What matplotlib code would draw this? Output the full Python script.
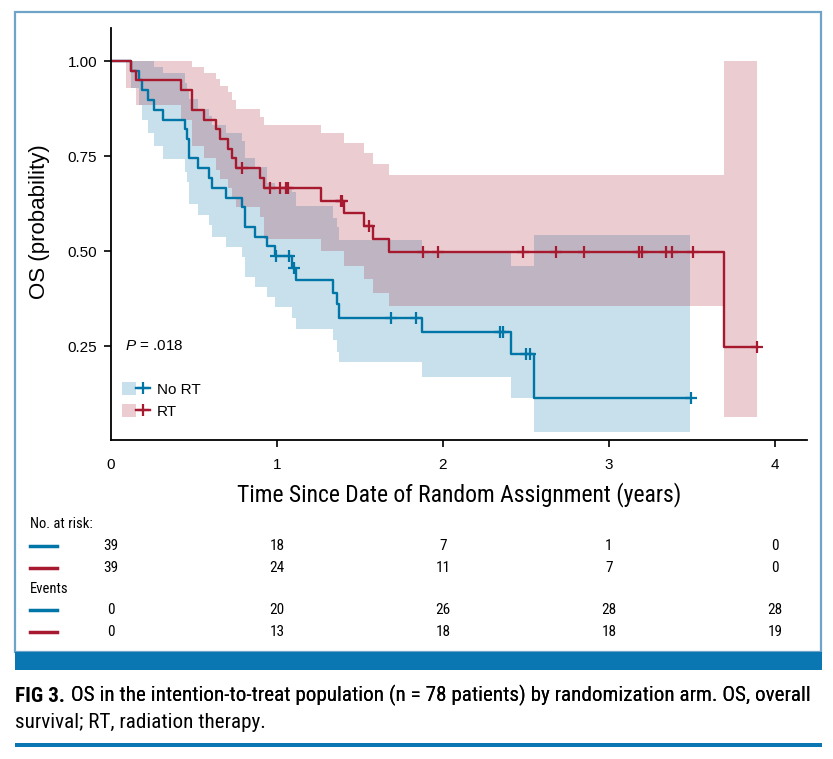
import os

import matplotlib
matplotlib.use("Agg")
import matplotlib.pyplot as plt
import numpy as np
from matplotlib import font_manager
from matplotlib.font_manager import FontProperties
from matplotlib.legend_handler import HandlerTuple
from matplotlib.lines import Line2D
from matplotlib.patches import Patch, Rectangle
from matplotlib.transforms import blended_transform_factory

# No RT arm: KM steps (time in years, survival after the step)
no_rt_time = [0, 0.119, 0.170, 0.185, 0.221, 0.259, 0.315, 0.446, 0.456, 0.468, 0.522, 0.590,
              0.606, 0.691, 0.791, 0.809, 0.867, 0.938, 0.990, 1.092, 1.114, 1.335, 1.360,
              1.372, 1.872, 2.408, 2.550, 3.492]
no_rt_surv = [1.0, 0.974, 0.949, 0.923, 0.897, 0.872, 0.846, 0.821, 0.795, 0.744, 0.718, 0.692,
              0.667, 0.641, 0.615, 0.564, 0.538, 0.513, 0.487, 0.455, 0.425, 0.391, 0.360,
              0.325, 0.286, 0.230, 0.114, 0.114]
no_rt_censor = [0.997, 1.072, 1.100, 1.687, 1.835, 2.345, 2.360, 2.500, 2.524, 3.492]

no_rt_ci_time = [0.119, 0.170, 0.185, 0.221, 0.259, 0.315, 0.446, 0.456, 0.468, 0.522, 0.590,
                 0.606, 0.691, 0.791, 0.809, 0.867, 0.938, 0.990, 1.092, 1.114, 1.335, 1.360,
                 1.372, 1.872, 2.408, 2.550, 3.488]
no_rt_ci_lo = [0.930, 0.885, 0.845, 0.810, 0.776, 0.742, 0.709, 0.682, 0.625, 0.595, 0.568,
               0.538, 0.511, 0.485, 0.432, 0.406, 0.380, 0.353, 0.323, 0.294, 0.266, 0.235,
               0.207, 0.169, 0.114, 0.025, 0.025]
no_rt_ci_hi = [1.000, 1.000, 1.000, 1.000, 0.985, 0.969, 0.943, 0.925, 0.900, 0.875, 0.855,
               0.832, 0.810, 0.790, 0.744, 0.722, 0.680, 0.660, 0.655, 0.618, 0.586, 0.564,
               0.529, 0.495, 0.461, 0.542, 0.542]

# RT arm
rt_time = [0, 0.119, 0.151, 0.422, 0.490, 0.560, 0.633, 0.657, 0.703, 0.731, 0.751, 0.898,
           0.922, 1.266, 1.402, 1.524, 1.580, 1.673, 3.693, 3.893]
rt_surv = [1.0, 0.974, 0.949, 0.923, 0.872, 0.846, 0.821, 0.795, 0.769, 0.744, 0.718, 0.692,
           0.667, 0.633, 0.600, 0.566, 0.531, 0.497, 0.248, 0.248]
rt_censor = [0.789, 0.960, 1.018, 1.054, 1.064, 1.386, 1.393, 1.554, 1.881, 1.972, 2.482,
             2.681, 2.849, 3.181, 3.199, 3.343, 3.378, 3.508, 3.893]

rt_ci_time = [0.090, 0.151, 0.422, 0.490, 0.560, 0.633, 0.657, 0.703, 0.731, 0.751, 0.898,
              0.922, 1.266, 1.402, 1.524, 1.580, 1.673, 3.693, 3.890]
rt_ci_lo = [0.930, 0.885, 0.845, 0.776, 0.744, 0.713, 0.690, 0.665, 0.643, 0.617, 0.590,
            0.533, 0.500, 0.461, 0.426, 0.390, 0.355, 0.064, 0.064]
rt_ci_hi = [1.000, 1.000, 1.000, 0.985, 0.969, 0.953, 0.935, 0.918, 0.897, 0.875, 0.854,
            0.832, 0.810, 0.785, 0.757, 0.729, 0.700, 1.000, 1.000]

# risk table
table_times = [0, 1, 2, 3, 4]
no_rt_at_risk = [39, 18, 7, 1, 0]
rt_at_risk = [39, 24, 11, 7, 0]
no_rt_events = [0, 20, 26, 28, 28]
rt_events = [0, 13, 18, 18, 19]

y_ticks = [0.25, 0.50, 0.75, 1.00]
x_ticks = [0, 1, 2, 3, 4]

BLUE = "#0076a8"
RED = "#a6192e"
BAND_ALPHA = 0.22
FRAME = "#6fa3c8"
BAR = "#0a76b2"

W, H = 833, 759

names = {f.name for f in font_manager.fontManager.ttflist}
SANS = "Liberation Sans" if "Liberation Sans" in names else "DejaVu Sans"
plt.rcParams["font.family"] = SANS
plt.rcParams["mathtext.fontset"] = "custom"
plt.rcParams["mathtext.it"] = SANS + ":italic"
plt.rcParams["mathtext.rm"] = SANS


def _is_condensed(f):
    label = (f.name + " " + os.path.basename(f.fname)).lower()
    if "narrow" in label or "condensed" in label:
        return True
    st = f.stretch
    if isinstance(st, str):
        return st in ("condensed", "semi-condensed", "extra-condensed", "ultra-condensed")
    return st < 500


def _weight(f):
    w = f.weight
    if isinstance(w, str):
        return 700 if "bold" in w else 400
    return w


def find_narrow(bold=False):
    prefs = ["liberation sans narrow", "roboto condensed", "dejavu sans", "noto sans",
             "open sans", "arial narrow"]
    found = []
    for f in font_manager.fontManager.ttflist:
        if not _is_condensed(f) or f.style != "normal":
            continue
        if (_weight(f) >= 600) != bold:
            continue
        nm = f.name.lower()
        rank = next((i for i, p in enumerate(prefs) if nm.startswith(p)), len(prefs))
        found.append((rank, abs(_weight(f) - (700 if bold else 400)), f.fname))
    if not found:
        return FontProperties(family=SANS, weight="bold" if bold else "normal")
    return FontProperties(fname=sorted(found)[0][2])


NARROW = find_narrow()
NARROW_BOLD = find_narrow(bold=True)


def fx(px):
    return px / W


def fy(py):
    return 1 - py / H


def step_at(times, surv, pts):
    idx = np.searchsorted(times, pts, side="right") - 1
    return np.asarray(surv)[idx]


def narrow(size, bold=False):
    fp = (NARROW_BOLD if bold else NARROW).copy()
    fp.set_size(size)
    return fp


fig = plt.figure(figsize=(W / 100, H / 100), dpi=100)
ax = fig.add_axes([fx(111), fy(440), fx(807) - fx(111), fy(28) - fy(440)])

ax.fill_between(no_rt_ci_time, no_rt_ci_lo, no_rt_ci_hi, step="post",
                color=BLUE, alpha=BAND_ALPHA, lw=0)
ax.fill_between(rt_ci_time, rt_ci_lo, rt_ci_hi, step="post",
                color=RED, alpha=BAND_ALPHA, lw=0)

LW, MS, MEW = 1.7, 9, 1.6
ax.step(no_rt_time, no_rt_surv, where="post", color=BLUE, lw=LW)
ax.plot(no_rt_censor, step_at(no_rt_time, no_rt_surv, no_rt_censor), ls="none",
        marker="+", ms=MS, mew=MEW, color=BLUE)
ax.step(rt_time, rt_surv, where="post", color=RED, lw=LW)
ax.plot(rt_censor, step_at(rt_time, rt_surv, rt_censor), ls="none",
        marker="+", ms=MS, mew=MEW, color=RED)

ax.set_xlim(0, 4.193)
ax.set_ylim(0.003, 1.087)
ax.set_xticks(x_ticks)
ax.set_yticks(y_ticks)
ax.set_yticklabels([f"{v:.2f}" for v in y_ticks])
for side in ["top", "right"]:
    ax.spines[side].set_visible(False)
for side in ["left", "bottom"]:
    ax.spines[side].set_linewidth(1.3)
ax.tick_params(axis="both", direction="out", length=5, width=1.2, labelsize=11)
ax.tick_params(axis="x", pad=8)
ax.tick_params(axis="y", pad=5)
ax.xaxis.get_major_ticks()[0].tick1line.set_visible(False)

ax.text(0.085, 0.25, r"$P$ = .018", fontsize=11, va="center", ha="left")

h_no = (Patch(facecolor=BLUE, alpha=BAND_ALPHA, lw=0),
        Line2D([], [], color=BLUE, lw=LW, marker="+", ms=MS, mew=MEW))
h_rt = (Patch(facecolor=RED, alpha=BAND_ALPHA, lw=0),
        Line2D([], [], color=RED, lw=LW, marker="+", ms=MS, mew=MEW))
ax.legend([h_no, h_rt], ["No RT", "RT"], handler_map={tuple: HandlerTuple(ndivide=None)},
          loc="upper left", bbox_to_anchor=(fx(122), fy(382)), bbox_transform=fig.transFigure,
          frameon=False, fontsize=11, handlelength=1.8, handleheight=0.95,
          handletextpad=0.5, labelspacing=0.45, borderpad=0, borderaxespad=0)

fig.text(fx(40), fy(222), "OS (probability)", rotation=90, ha="center", va="center",
         fontsize=16)
fig.text(fx(459), fy(495), "Time Since Date of Random Assignment (years)", ha="center",
         va="center", fontproperties=narrow(17))

# number at risk / events table
tr = blended_transform_factory(ax.transData, fig.transFigure)
fig.text(fx(30), fy(524), "No. at risk:", ha="left", va="center", fontproperties=narrow(10.5))
fig.text(fx(30), fy(589), "Events", ha="left", va="center", fontproperties=narrow(10.5))
rows = [(546, BLUE, no_rt_at_risk), (568, RED, rt_at_risk),
        (610, BLUE, no_rt_events), (632, RED, rt_events)]
for py, color, vals in rows:
    fig.add_artist(Line2D([fx(30), fx(57)], [fy(py), fy(py)], color=color, lw=2.5,
                          transform=fig.transFigure))
    for t, v in zip(table_times, vals):
        fig.text(t, fy(py), str(v), transform=tr, ha="center", va="center",
                 fontproperties=narrow(11))

# frame, blue bar and caption
fig.add_artist(Rectangle((fx(15), fy(652)), fx(821) - fx(15), fy(12) - fy(652),
                         transform=fig.transFigure, fill=False, edgecolor=FRAME, lw=1.6))
fig.add_artist(Rectangle((fx(15), fy(670)), fx(822) - fx(15), fy(652) - fy(670),
                         transform=fig.transFigure, facecolor=BAR, lw=0))
fig.add_artist(Rectangle((fx(15), fy(747)), fx(822) - fx(15), fy(743) - fy(747),
                         transform=fig.transFigure, facecolor=BAR, lw=0))

cap1 = fig.text(fx(15), fy(697), "FIG 3.", ha="left", va="center",
                fontproperties=narrow(15.2, bold=True))
fig.add_artist(plt.annotate(
    "OS in the intention-to-treat population (n = 78 patients) by randomization "
    "arm. OS, overall", xy=(1, 0), xycoords=cap1, xytext=(4, 0),
    textcoords="offset points", ha="left", va="bottom", fontproperties=narrow(15.2),
    annotation_clip=False))
fig.text(fx(15), fy(722), "survival; RT, radiation therapy.", ha="left", va="center",
         fontproperties=narrow(15.2))

fig.savefig("out.png", dpi=100)
